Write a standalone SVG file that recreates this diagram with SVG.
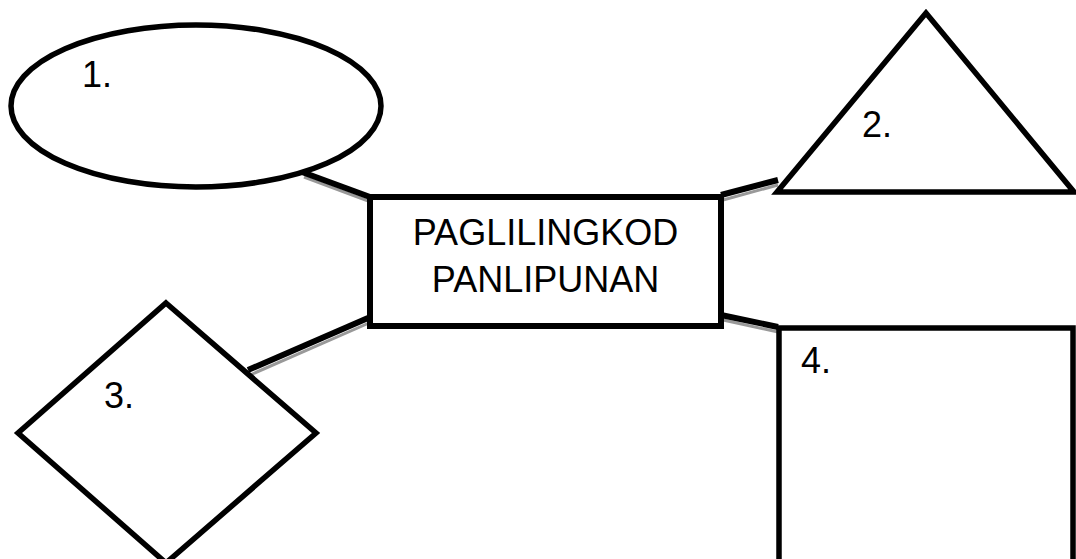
<svg xmlns="http://www.w3.org/2000/svg" width="1076" height="559" viewBox="0 0 1076 559">
<style>
.shape{fill:#fff;stroke:#000;stroke-width:5.5;stroke-linejoin:miter}
.lbl{font-family:"Liberation Sans",Arial,sans-serif;font-size:36px;fill:#000}
.conn{stroke:#000;stroke-width:6;stroke-linecap:butt}
.shadow{stroke:#999;stroke-width:3;stroke-linecap:butt}
</style>
<rect width="1076" height="559" fill="#fff"/>
<g id="connectors">
<line class="shadow" x1="304" y1="177" x2="371" y2="202"/>
<line class="shadow" x1="723" y1="200" x2="778" y2="185"/>
<line class="shadow" x1="250" y1="375" x2="369" y2="323"/>
<line class="shadow" x1="723" y1="320" x2="778" y2="332"/>
<line class="conn" x1="302" y1="172" x2="370" y2="197"/>
<line class="conn" x1="721" y1="195" x2="778" y2="180"/>
<line class="conn" x1="248" y1="370" x2="368" y2="318"/>
<line class="conn" x1="721" y1="315" x2="778" y2="327"/>
</g>
<g id="node1">
<ellipse class="shape" cx="196" cy="106" rx="185" ry="81"/>
<text class="lbl" x="82" y="87">1.</text>
</g>
<g id="node2">
<polygon class="shape" points="926,13 777,192 1074,192"/>
<text class="lbl" x="862" y="137">2.</text>
</g>
<g id="node3">
<polygon class="shape" points="166,303 316,433 166,563 18,433"/>
<text class="lbl" x="104" y="408">3.</text>
</g>
<g id="node4">
<rect class="shape" x="779" y="328" width="294" height="250"/>
<text class="lbl" x="801" y="373">4.</text>
</g>
<g id="center">
<rect class="shape" x="370" y="197" width="351" height="129" style="stroke-width:6"/>
<text class="lbl" x="545.5" y="245" text-anchor="middle">PAGLILINGKOD</text>
<text class="lbl" x="545.5" y="292" text-anchor="middle">PANLIPUNAN</text>
</g>
</svg>
